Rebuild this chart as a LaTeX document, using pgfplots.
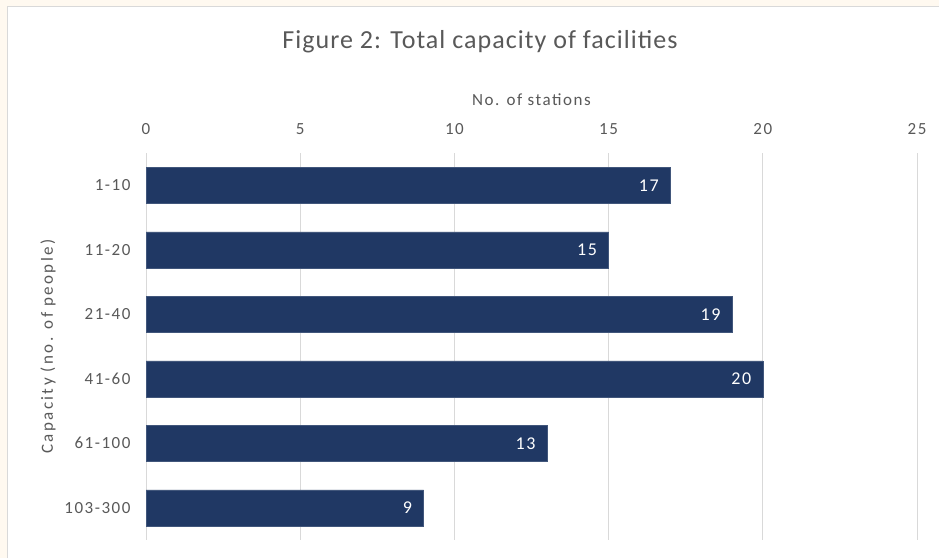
\documentclass[border=0pt]{standalone}
\usepackage{fontspec}
\setmainfont{Carlito}
\newfontfamily\wide[LetterSpace=9]{Carlito}
\newfontfamily\wider[LetterSpace=14]{Carlito}
\newfontfamily\tw[LetterSpace=4]{Carlito}
\usepackage{pgfplots}
\pgfplotsset{compat=1.18}
\definecolor{barc}{HTML}{203864}
\definecolor{txt}{HTML}{595959}
\definecolor{gridc}{HTML}{D9D9D9}
\definecolor{cream}{HTML}{FFF9F0}
\begin{document}
\begin{tikzpicture}
\path[use as bounding box] (0pt,0pt) rectangle (939pt,558pt);
\fill[cream] (0pt,0pt) rectangle (939pt,558pt);
\fill[white] (7pt,0pt) rectangle (939pt,551pt);
\draw[gridc, line width=1pt] (7.5pt,0pt) -- (7.5pt,551.5pt) -- (939pt,551.5pt);
\node[text=txt, font=\tw\fontsize{26}{30}\selectfont] at (480pt,516pt) {Figure 2: Total capacity of facilities};
\begin{axis}[
  at={(146pt,18pt)}, anchor=south west,
  scale only axis, width=771pt, height=387pt,
  xmin=0, xmax=25, xtick={0,5,...,25},
  ymin=-0.5, ymax=5.5, y dir=reverse,
  ytick={0,1,2,3,4,5},
  yticklabels={1-10,11-20,21-40,41-60,61-100,103-300},
  xticklabel pos=top,
  axis line style={draw=none},
  major tick length=0pt,
  xmajorgrids, major grid style={gridc, line width=1pt},
  /pgf/number format/assume math mode=true,
  tick label style={text=txt, font=\wide\fontsize{17}{20}\selectfont},
  xticklabel style={yshift=15pt},
  yticklabel style={xshift=-12pt},
  xlabel={No. of stations},
  xlabel style={at={(axis description cs:0.5,1.137)}, anchor=center, text=txt, font=\wide\fontsize{17}{20}\selectfont},
  ylabel={Capacity (no. of people)},
  ylabel style={at={(axis description cs:-0.127,0.5)}, anchor=center, rotate=0, text=txt, font=\wider\fontsize{17}{20}\selectfont},
]
\addplot[xbar, fill=barc, draw=barc!85!white, bar width=36pt,
  nodes near coords,
  nodes near coords style={text=white, anchor=east, xshift=-8pt, font=\wide\fontsize{18}{21}\selectfont}]
  coordinates {(17,0) (15,1) (19,2) (20,3) (13,4) (9,5)};
\end{axis}
\end{tikzpicture}
\end{document}
